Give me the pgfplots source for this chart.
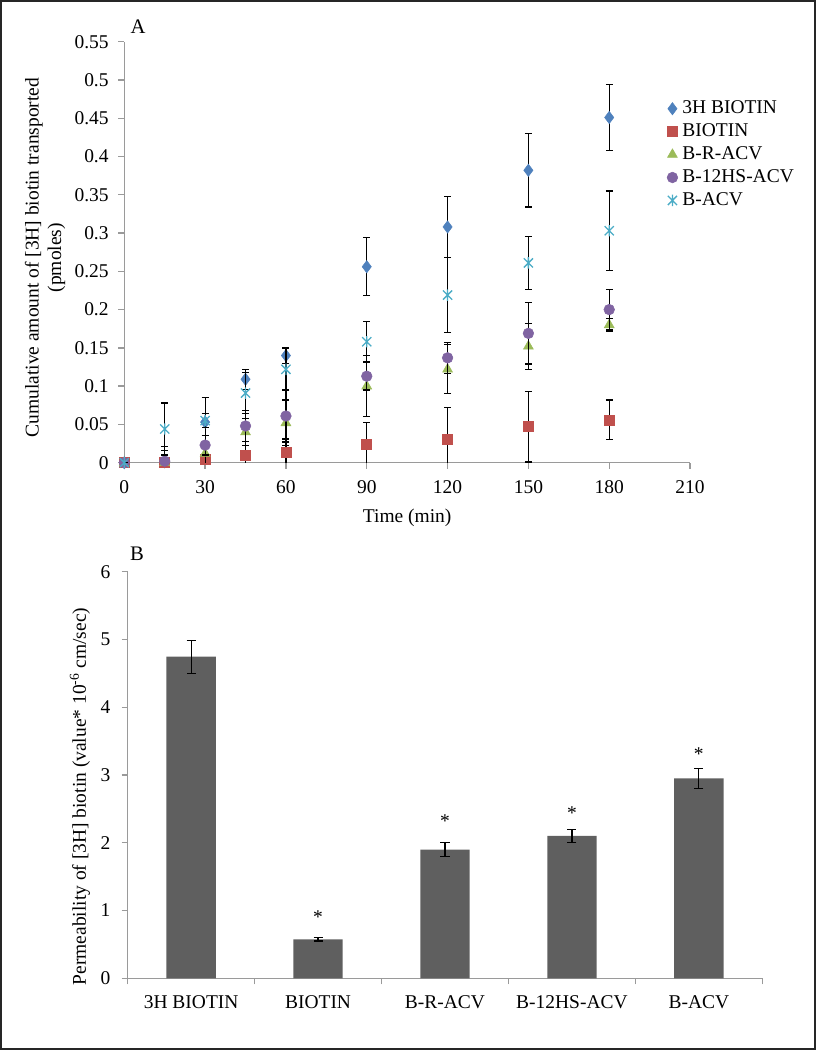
\documentclass[border=0pt]{standalone}
\usepackage{pgfplots}
\pgfplotsset{compat=1.18}
\usepackage{fontspec}
\setmainfont{Liberation Serif}
\definecolor{cA}{HTML}{4F81BD}
\definecolor{cB}{HTML}{C0504D}
\definecolor{cC}{HTML}{9BBB59}
\definecolor{cD}{HTML}{8064A2}
\definecolor{cE}{HTML}{4BACC6}
\definecolor{axgray}{HTML}{9A9A9A}
\definecolor{barg}{HTML}{5F5F5F}
\newcommand\ff{\fontsize{14.6pt}{17pt}\selectfont}
\newcommand\fA{\fontsize{15.5pt}{18pt}\selectfont}

\pgfdeclareplotmark{xstar}{%
  \pgfpathmoveto{\pgfqpoint{0pt}{\pgfplotmarksize}}%
  \pgfpathlineto{\pgfqpoint{0pt}{-\pgfplotmarksize}}%
  \pgfpathmoveto{\pgfqpoint{-0.8\pgfplotmarksize}{-0.8\pgfplotmarksize}}%
  \pgfpathlineto{\pgfqpoint{0.8\pgfplotmarksize}{0.8\pgfplotmarksize}}%
  \pgfpathmoveto{\pgfqpoint{-0.8\pgfplotmarksize}{0.8\pgfplotmarksize}}%
  \pgfpathlineto{\pgfqpoint{0.8\pgfplotmarksize}{-0.8\pgfplotmarksize}}%
  \pgfusepathqstroke}

\pgfplotstableread{
x y e
0 0 0
15 0.001 0.015
30 0.053 0.032
45 0.109 0.013
60 0.140 0.010
90 0.256 0.038
120 0.308 0.040
150 0.382 0.048
180 0.451 0.043
}\tHB
\pgfplotstableread{
x y e
0 0 0
15 0 0.003
30 0.004 0.006
45 0.010 0.012
60 0.013 0.018
90 0.024 0.028
120 0.030 0.042
150 0.047 0.046
180 0.056 0.026
}\tB
\pgfplotstableread{
x y e
0 0 0
15 0 0.006
30 0.012 0.015
45 0.040 0.018
60 0.052 0.030
90 0.100 0.040
120 0.122 0.032
150 0.152 0.030
180 0.180 0.008
}\tBR
\pgfplotstableread{
x y e
0 0 0
15 0.002 0.019
30 0.023 0.013
45 0.048 0.020
60 0.061 0.034
90 0.113 0.018
120 0.137 0.020
150 0.169 0.040
180 0.200 0.026
}\tBH
\pgfplotstableread{
x y e
0 0 0
15 0.044 0.034
30 0.055 0.009
45 0.091 0.027
60 0.122 0.027
90 0.158 0.026
120 0.219 0.049
150 0.261 0.035
180 0.303 0.052
}\tBA

\pgfplotsset{
  myerr/.style={error bars/.cd, y dir=both, y explicit,
    error bar style={black, line width=0.9pt},
    error mark options={rotate=90, black, mark size=2.6pt, line width=0.9pt}},
}

\begin{document}
\begin{tikzpicture}
\useasboundingbox (0,0) rectangle (612pt,787.5pt);
\draw[line width=1.5pt, color=black!85] (0.75pt,0.75pt) rectangle (611.25pt,786.75pt);

% ---------------- Panel A ----------------
\begin{axis}[
  at={(93.225pt,440.475pt)}, anchor=south west,
  scale only axis, width=424.3pt, height=315.75pt,
  xmin=0, xmax=210, ymin=0, ymax=0.55,
  axis lines*=left,
  axis line style={draw=axgray, line width=1pt},
  tick style={draw=axgray, line width=1pt},
  tick align=outside, major tick length=4.5pt,
  xtick={0,30,60,90,120,150,180,210},
  xticklabels={0,30,60,90,120,150,180,210},
  ytick={0,0.05,0.1,0.15,0.2,0.25,0.3,0.35,0.4,0.45,0.5,0.55},
  yticklabels={0,0.05,0.1,0.15,0.2,0.25,0.3,0.35,0.4,0.45,0.5,0.55},
  tick label style={font=\ff, black},
  xticklabel style={yshift=-5pt},
  yticklabel style={xshift=-3.75pt},
  clip mode=individual,
  xlabel={Time (min)},
  ylabel={Cumulative amount of [3H] biotin transported\\(pmoles)},
  every axis x label/.style={at={(axis description cs:0.5,-0.131)}, anchor=center, font=\ff},
  every axis y label/.style={at={(axis description cs:-0.140,0.487)}, anchor=center, rotate=90, align=center, font=\ff},
  legend style={at={(axis description cs:0.959,0.866)}, anchor=north west, draw=none, fill=none,
    font=\ff, inner sep=0pt, row sep=1.7pt,
    nodes={inner sep=1pt, text height=10.5pt, text depth=3pt}},
  legend cell align=left,
  legend image code/.code={\draw[#1] plot coordinates {(0pt,0pt)};},
  /tikz/every odd column/.append style={column sep=2.5pt},
]
\addplot[only marks, mark=diamond*, mark size=4.6pt, color=cA, mark options={fill=cA, draw=cA}, myerr]
  table[x=x, y=y, y error=e]{\tHB};
\addlegendentry{3H BIOTIN}
\addplot[only marks, mark=square*, mark size=3.75pt, color=cB, mark options={fill=cB, draw=cB}, myerr]
  table[x=x, y=y, y error=e]{\tB};
\addlegendentry{BIOTIN}
\addplot[only marks, mark=triangle*, mark size=4.3pt, color=cC, mark options={fill=cC, draw=cC}, myerr]
  table[x=x, y=y, y error=e]{\tBR};
\addlegendentry{B-R-ACV}
\addplot[only marks, mark=*, mark size=4pt, color=cD, mark options={fill=cD, draw=cD}, myerr]
  table[x=x, y=y, y error=e]{\tBH};
\addlegendentry{B-12HS-ACV}
\addplot[only marks, mark=xstar, mark size=4.3pt, color=cE, mark options={draw=cE, line width=1pt}, myerr]
  table[x=x, y=y, y error=e]{\tBA};
\addlegendentry{B-ACV}
\node[font=\fA, anchor=center] at (axis description cs:0.0243,1.035) {A};
\end{axis}

% ---------------- Panel B ----------------
\begin{axis}[
  at={(95.775pt,53.775pt)}, anchor=south west,
  scale only axis, width=475.95pt, height=304.95pt,
  xmin=-0.5, xmax=4.5, ymin=0, ymax=6,
  axis lines*=left,
  axis line style={draw=axgray, line width=1pt},
  tick style={draw=axgray, line width=1pt},
  tick align=outside, major tick length=4.5pt,
  ytick={0,1,2,3,4,5,6},
  yticklabels={0,1,2,3,4,5,6},
  yticklabel style={xshift=-5pt},
  xtick={-0.5,0.5,1.5,2.5,3.5,4.5},
  xticklabels={,,,,,},
  extra x ticks={0,1,2,3,4},
  extra x tick labels={3H BIOTIN,BIOTIN,B-R-ACV,B-12HS-ACV,B-ACV},
  extra x tick style={major tick length=0pt, xticklabel style={yshift=-9.5pt}},
  tick label style={font=\ff, black},
  ylabel={Permeability of [3H] biotin (value* 10\textsuperscript{-6} cm/sec)},
  every axis y label/.style={at={(axis description cs:-0.0752,0.447)}, anchor=center, rotate=90, font=\ff},
  clip=false,
]
\addplot[ybar, bar width=37pt, fill=barg, draw=none,
  error bars/.cd, y dir=both, y explicit,
  error bar style={black, line width=0.9pt},
  error mark options={rotate=90, black, mark size=3.4pt, line width=0.9pt}]
  coordinates {(0,4.745) +- (0,0.245) (1,0.575) +- (0,0.025) (2,1.90) +- (0,0.10) (3,2.10) +- (0,0.10) (4,2.95) +- (0,0.15)};
\addplot[draw=none, mark=none, nodes near coords={*},
  every node near coord/.append style={anchor=center, font=\ff, black}]
  coordinates {(1,0.91) (2,2.32) (3,2.44) (4,3.31)};
\node[font=\fA, anchor=center] at (axis description cs:0.0147,1.0435) {B};
\end{axis}
\end{tikzpicture}
\end{document}
